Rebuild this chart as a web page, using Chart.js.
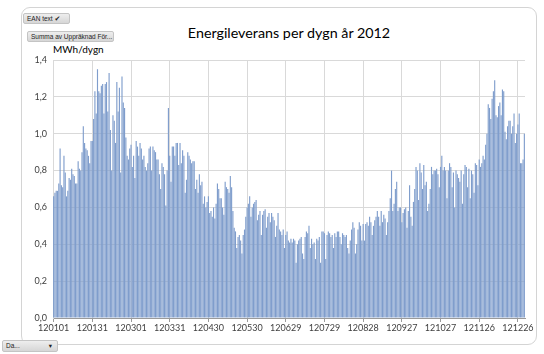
<!DOCTYPE html>
<html>
<head>
<meta charset="utf-8">
<script src="https://cdn.jsdelivr.net/npm/chart.js@4/dist/chart.umd.min.js"></script>
<style>
  html, body { margin: 0; padding: 0; background: #fff; }
  body { width: 544px; height: 354px; position: relative; overflow: hidden; font-family: "Liberation Sans", "DejaVu Sans", sans-serif; }
  #frame { position: absolute; left: 21px; top: 7px; width: 516px; height: 338px; border: 1px solid #d4d4d4; border-radius: 9px; box-sizing: border-box; }
  .btn { position: absolute; height: 11px; box-sizing: border-box; border: 1px solid #c4c4c4; border-radius: 2px;
         background: linear-gradient(#eeeeee, #d6d6d6); font-size: 6.5px; line-height: 9px; color: #222; padding: 0 3px; white-space: nowrap; }
  #title { position: absolute; left: 0; width: 578px; top: 24px; text-align: center; font-family: "Lato", sans-serif; font-size: 14.3px; color: #000; }
  #unit { position: absolute; left: 53px; top: 43px; font-family: "Lato", sans-serif; font-size: 10px; color: #000; }
  canvas { position: absolute; left: 0; top: 0; }
</style>
</head>
<body>
<div id="frame"></div>
<div class="btn" style="left:23px; top:13px; width:47px;">EAN text <span style="font-size:7px;">&#x2714;</span></div>
<div class="btn" style="left:27px; top:31px; width:87px;">Summa av Uppräknad För...</div>
<div id="title">Energileverans per dygn år 2012</div>
<div id="unit">MWh/dygn</div>
<div class="btn" style="left:2px; top:340px; width:56px; height:12px; line-height:10px;">Da... <span style="position:absolute; right:5px;">&#x25BE;</span></div>
<canvas id="c" width="544" height="354"></canvas>
<script>
// Daily energy delivered in 2012, MWh per day (Jan 1 .. Dec 31)
const janFeb = [0.66,0.68,0.69,0.69,0.73,0.92,0.72,0.71,0.88,0.79,0.66,0.69,0.76,0.75,0.81,0.78,0.77,0.73,0.73,0.85,0.81,0.80,0.90,1.04,0.95,0.92,0.91,0.88,0.84,0.96,0.96,1.08,1.23,1.11,1.35,
  1.23,1.22,1.26,1.27,1.11,1.27,1.28,1.12,1.33,1.02,0.80,1.10,1.07,0.95,1.28,1.12,1.25,0.79,1.31,1.17,1.14,0.98,0.88,0.86,0.92,0.94,0.82,0.88,0.76,0.96,0.93,0.88,0.95,0.92,0.86,0.88,0.82];
const marApr = [0.80,0.84,0.92,0.93,0.80,0.93,0.91,0.90,0.86,0.86,0.78,0.70,0.84,0.82,0.78,0.61,0.80,1.14,0.88,0.74,0.93,0.93,0.88,0.95,0.95,0.83,0.95,0.84,0.91,0.88,0.68,0.75,0.90,0.88,0.86,0.84,0.85,
  0.85,0.70,0.75,0.68,0.78,0.72,0.74,0.62,0.66,0.60,0.63,0.66,0.57,0.58,0.55,0.60,0.54,0.62,0.73,0.70,0.65,0.65,0.60,0.56,0.74,0.71,0.70,0.68,0.77,0.71,0.58,0.49,0.47,0.38,0.44,0.45,0.42];
const mayJul = [0.35,0.45,0.48,0.55,0.60,0.62,0.66,0.55,0.60,0.62,0.63,0.64,0.53,0.56,0.58,0.45,0.56,0.58,0.59,0.49,0.55,0.57,0.52,0.57,0.55,0.53,0.44,0.50,0.57,0.48,0.47,0.45,0.48,0.38,0.45,0.47,0.42,
  0.41,0.43,0.41,0.43,0.42,0.30,0.40,0.42,0.43,0.44,0.35,0.32,0.44,0.47,0.46,0.50,0.38,0.43,0.40,0.41,0.32,0.43,0.42,0.44,0.30,0.47,0.47,0.46,0.32,0.45,0.47,0.46,0.44,0.45,0.38,0.46,0.44,0.47];
const augSep = [0.47,0.44,0.40,0.46,0.45,0.44,0.45,0.38,0.35,0.42,0.48,0.52,0.49,0.35,0.40,0.48,0.52,0.50,0.42,0.51,0.42,0.51,0.52,0.50,0.55,0.52,0.45,0.50,0.53,0.55,0.58,0.55,0.50,0.58,0.52,0.56,0.54,
  0.45,0.52,0.58,0.65,0.80,0.58,0.62,0.70,0.74,0.58,0.60,0.60,0.52,0.57,0.59,0.60,0.49,0.58,0.72,0.55,0.50,0.63,0.70,0.82,0.80,0.64,0.84,0.79,0.70,0.83,0.72,0.74,0.58,0.62,0.70,0.82,0.78,0.80];
const octDec = [0.80,0.81,0.78,0.71,0.82,0.88,0.80,0.82,0.80,0.65,0.80,0.84,0.82,0.71,0.79,0.60,0.80,0.78,0.76,0.74,0.80,0.62,0.78,0.83,0.82,0.71,0.81,0.65,0.80,0.78,0.68,0.84,0.83,0.72,0.86,0.82,0.84,
  0.88,0.86,0.94,1.00,1.16,1.14,1.08,1.19,1.23,1.29,1.10,1.09,1.15,1.17,1.10,1.24,1.23,1.01,0.97,1.04,1.07,1.07,1.00,1.04,1.11,0.95,1.00,1.05,1.11,0.84,0.84,0.86,1.00];

// Tick labels printed under the axis (every 30th day)
const tickLabels = ['120101','120131','120301','120331','120430','120530','120629','120729','120828','120927','121027','121126','121226'];

// One category per calendar day, named yyMMdd
const days = [];
for (let d = new Date(Date.UTC(2012, 0, 1)); d.getUTCFullYear() === 2012; d.setUTCDate(d.getUTCDate() + 1)) {
  const yy = String(d.getUTCFullYear()).slice(2);
  const mm = String(d.getUTCMonth() + 1).padStart(2, '0');
  const dd = String(d.getUTCDate()).padStart(2, '0');
  days.push(yy + mm + dd);
}
const values = [...janFeb, ...marApr, ...mayJul, ...augSep, ...octDec];

new Chart(document.getElementById('c'), {
  type: 'bar',
  data: {
    labels: days,
    datasets: [{
      data: values,
      backgroundColor: '#7f9dcc',
      borderWidth: 0,
      barPercentage: 0.88,
      categoryPercentage: 1.0
    }]
  },
  options: {
    responsive: false,
    animation: false,
    events: [],
    layout: { padding: { left: 23, right: 19, top: 60, bottom: 15 } },
    plugins: { legend: { display: false }, tooltip: { enabled: false } },
    scales: {
      x: {
        offset: true,
        afterFit: s => { s.height = 21; },
        grid: { offset: false, color: '#d9d9d9', tickLength: 4, tickColor: '#9a9a9a' },
        border: { color: '#9a9a9a' },
        ticks: {
          autoSkip: false, maxRotation: 0, minRotation: 0, padding: 1,
          color: '#404040', font: { family: 'Lato', size: 9 },
          callback: function (v) { const l = this.getLabelForValue(v); return tickLabels.includes(l) ? l : null; }
        }
      },
      y: {
        min: 0, max: 1.4,
        afterFit: s => { s.width = 30; },
        grid: { color: '#d9d9d9', drawTicks: false },
        border: { color: '#d9d9d9' },
        ticks: {
          stepSize: 0.2, padding: 6,
          color: '#404040', font: { family: 'Lato', size: 9 },
          callback: v => v.toFixed(1).replace('.', ',')
        }
      }
    }
  }
});
</script>
</body>
</html>
